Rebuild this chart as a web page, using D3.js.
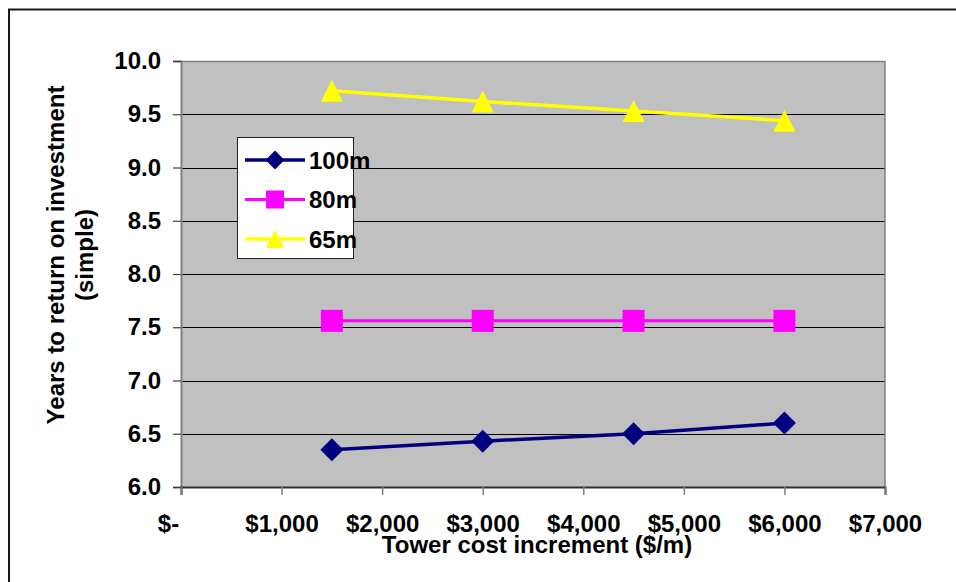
<!DOCTYPE html>
<html>
<head>
<meta charset="utf-8">
<script src="https://cdn.jsdelivr.net/npm/d3@7"></script>
<style>
  html, body { margin: 0; padding: 0; background: #fff; }
  svg { display: block; }
  text { font-family: "Liberation Sans", Arial, sans-serif; font-weight: bold; fill: #000; }
</style>
</head>
<body>
<svg id="chart" width="956" height="582"></svg>
<script>
// Tower cost increment ($/m) on the x axis
const costs = [1500, 3000, 4500, 6000];
// Simple payback period (years) for each hub height
const years100m = [6.35, 6.43, 6.50, 6.60];
const years80m  = [7.56, 7.56, 7.56, 7.56];
const years65m  = [9.72, 9.62, 9.53, 9.44];
const seriesNames = ["100m", "80m", "65m"];
const xTickValues = [0, 1000, 2000, 3000, 4000, 5000, 6000, 7000];
const yTickValues = [6.0, 6.5, 7.0, 7.5, 8.0, 8.5, 9.0, 9.5, 10.0];
const xTitle = "Tower cost increment ($/m)";
const yTitleLines = ["Years to return on investment", "(simple)"];

const series = [
  { name: seriesNames[0], values: years100m, color: "#000080", marker: "diamond", width: 3.5 },
  { name: seriesNames[1], values: years80m,  color: "#FF00FF", marker: "square",  width: 3 },
  { name: seriesNames[2], values: years65m,  color: "#FFFF00", marker: "triangle", width: 3.5 }
];

const svg = d3.select("#chart");

// outer chart-area frame
svg.append("rect")
  .attr("x", 9).attr("y", 9.5)
  .attr("width", 1200).attr("height", 1200)
  .attr("fill", "none").attr("stroke", "#1a1a1a").attr("stroke-width", 2);

const plot = { left: 181, right: 885, top: 61, bottom: 487 };
const x = d3.scaleLinear().domain([0, 7000]).range([plot.left, plot.right]);
const y = d3.scaleLinear().domain([6, 10]).range([plot.bottom, plot.top]);

// plot background
svg.append("rect")
  .attr("x", plot.left).attr("y", plot.top)
  .attr("width", plot.right - plot.left).attr("height", plot.bottom - plot.top)
  .attr("fill", "#C0C0C0");

// horizontal gridlines
svg.append("g").selectAll("line")
  .data(yTickValues.filter(v => v > 6 && v < 10))
  .join("line")
  .attr("x1", plot.left).attr("x2", plot.right)
  .attr("y1", d => Math.round(y(d)) + 0.5).attr("y2", d => Math.round(y(d)) + 0.5)
  .attr("stroke", "#000").attr("stroke-width", 1);

// plot border top / right
svg.append("path")
  .attr("d", `M${plot.left},${plot.top + 0.5}H${plot.right}V${plot.bottom}`)
  .attr("fill", "none").attr("stroke", "#808080").attr("stroke-width", 1.5);

// y axis
const yAxis = svg.append("g")
  .attr("transform", `translate(${plot.left},0)`)
  .call(d3.axisLeft(y).tickValues(yTickValues).tickFormat(d3.format(".1f")).tickSize(8).tickPadding(12));
yAxis.select(".domain").attr("stroke", "#808080").attr("stroke-width", 2);
yAxis.selectAll(".tick line").attr("stroke", "#404040").attr("stroke-width", 1.2);
yAxis.selectAll("text").attr("font-size", 24).style("font-family", "'Liberation Sans', Arial, sans-serif").attr("font-weight", "bold").attr("fill", "#000");

// x axis
const xAxis = svg.append("g")
  .attr("transform", `translate(0,${plot.bottom})`)
  .call(d3.axisBottom(x).tickValues(xTickValues)
    .tickFormat(d => d === 0 ? "$-" : "$" + d3.format(",")(d))
    .tickSize(8).tickPadding(20));
xAxis.select(".domain").attr("stroke", "#303030").attr("stroke-width", 2);
xAxis.selectAll(".tick line").attr("stroke", "#808080").attr("stroke-width", 1.5);
xAxis.selectAll("text").attr("font-size", 24).style("font-family", "'Liberation Sans', Arial, sans-serif").attr("font-weight", "bold").attr("fill", "#000")
  .attr("dx", d => d === 0 ? -13 : 0);

// axis titles
svg.append("text")
  .attr("x", 537).attr("y", 553)
  .attr("text-anchor", "middle").attr("font-size", 24)
  .text(xTitle);

const yTitle = svg.append("text")
  .attr("transform", "translate(0,255) rotate(-90)")
  .attr("text-anchor", "middle").attr("font-size", 24);
yTitle.selectAll("tspan").data(yTitleLines).join("tspan")
  .attr("x", 0).attr("y", (d, i) => 64 + i * 29)
  .text(d => d);

// marker shapes
function markerPath(kind, s) {
  const h = s / 2;
  if (kind === "diamond") return `M0,${-h}L${h},0L0,${h}L${-h},0Z`;
  if (kind === "square") return `M${-h},${-h}H${h}V${h}H${-h}Z`;
  return `M0,${-h}L${h},${h}H${-h}Z`;
}

const line = d3.line().x((d, i) => x(costs[i])).y(d => y(d));

const gSeries = svg.append("g").selectAll("g").data(series).join("g");
gSeries.append("path")
  .attr("d", d => line(d.values))
  .attr("fill", "none").attr("stroke", d => d.color)
  .attr("stroke-width", d => d.width).attr("stroke-linejoin", "round");
gSeries.each(function (s) {
  d3.select(this).selectAll("path.mk").data(s.values).join("path")
    .attr("class", "mk")
    .attr("transform", (d, i) => `translate(${x(costs[i])},${y(d)})`)
    .attr("d", markerPath(s.marker, s.marker === "diamond" ? 23 : 22))
    .attr("fill", s.color);
});

// legend
const legend = svg.append("g");
legend.append("rect")
  .attr("x", 237.5).attr("y", 137.5).attr("width", 116).attr("height", 121)
  .attr("fill", "#fff").attr("stroke", "#202020").attr("stroke-width", 1);
const rows = legend.selectAll("g.row").data(series).join("g")
  .attr("class", "row")
  .attr("transform", (d, i) => `translate(0,${160 + i * 39.5})`);
rows.append("line")
  .attr("x1", 245).attr("x2", 305).attr("y1", 0).attr("y2", 0)
  .attr("stroke", d => d.color).attr("stroke-width", d => d.width);
rows.append("path")
  .attr("transform", "translate(275,0)")
  .attr("d", d => markerPath(d.marker, d.marker === "diamond" ? 19 : 18))
  .attr("fill", d => d.color);
rows.append("text")
  .attr("x", 309).attr("y", 0).attr("dy", "0.36em")
  .attr("font-size", 24)
  .text(d => d.name);
</script>
</body>
</html>
